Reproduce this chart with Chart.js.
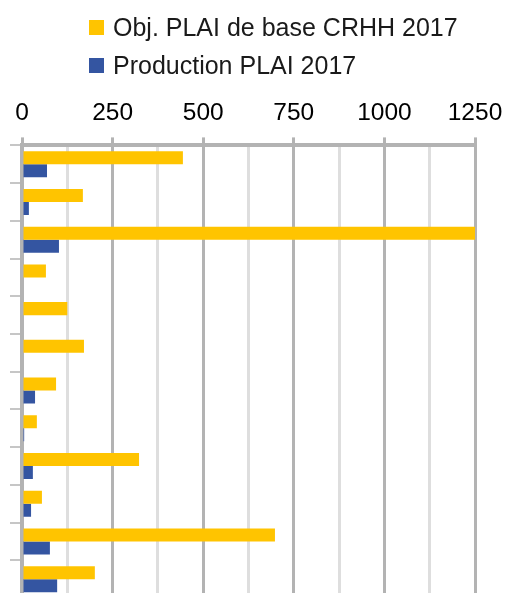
<!DOCTYPE html>
<html>
<head>
<meta charset="utf-8">
<script src="https://cdn.jsdelivr.net/npm/chart.js@4.4.1/dist/chart.umd.min.js"></script>
<style>
  body { margin: 0; width: 506px; height: 593px; overflow: hidden; background: #fff; }
  #wrap { position: relative; width: 506px; height: 598px; }
  #legend { position: absolute; left: 89px; top: 8px; font-family: "Liberation Sans", Arial, sans-serif; font-size: 25px; color: #1a1a1a; }
  #legend div { display: flex; align-items: center; height: 38px; line-height: 38px; white-space: nowrap; }
  #legend span.box { display: inline-block; width: 15px; height: 15px; margin-right: 9px; }
</style>
</head>
<body>
<div id="wrap">
  <canvas id="chart" width="506" height="598"></canvas>
  <div id="legend"></div>
</div>
<script>
// one bar pair per territory (names are not shown on the chart)
const categories = ['T1', 'T2', 'T3', 'T4', 'T5', 'T6', 'T7', 'T8', 'T9', 'T10', 'T11', 'T12'];
const objectifs = [444, 168, 1250, 66, 125, 171, 94, 41, 323, 55, 698, 201];
const production = [69, 19, 102, 0, 0, 0, 36, 6, 30, 25, 77, 97];
const xTicks = [0, 250, 500, 750, 1000, 1250];

const font = "'Liberation Sans', Arial, sans-serif";
const isMajor = v => xTicks.includes(v);

const chart = new Chart(document.getElementById('chart'), {
    type: 'bar',
    data: {
        labels: categories,
        datasets: [{
            label: 'Obj. PLAI de base CRHH 2017',
            data: objectifs,
            backgroundColor: '#FFC400'
        }, {
            label: 'Production PLAI 2017',
            data: production,
            backgroundColor: '#3455A1'
        }]
    },
    options: {
        indexAxis: 'y',
        responsive: false,
        animation: false,
        devicePixelRatio: 1,
        categoryPercentage: 0.69,
        barPercentage: 1,
        layout: { padding: { top: 90, left: 10, right: 31, bottom: 0 } },
        plugins: {
            legend: { display: false },
            tooltip: { enabled: false }
        },
        scales: {
            x: {
                position: 'top',
                min: 0,
                max: 1250,
                // the last label may hang over the right edge, like the original
                afterFit: scale => { scale.paddingRight = 31; },
                ticks: {
                    stepSize: 125,
                    autoSkip: false,
                    maxRotation: 0,
                    padding: 9,
                    color: '#000',
                    font: { family: font, size: 24.5 },
                    callback: v => isMajor(v) ? v : ''
                },
                grid: {
                    lineWidth: 3,
                    tickLength: 8,
                    color: ctx => ctx.tick && isMajor(ctx.tick.value) ? '#b3b3b3' : '#dedede',
                    tickColor: ctx => ctx.tick && isMajor(ctx.tick.value) ? '#b3b3b3' : 'rgba(0,0,0,0)'
                },
                border: { color: '#b3b3b3', width: 4 }
            },
            y: {
                ticks: { display: false },
                grid: {
                    offset: true,
                    drawOnChartArea: false,
                    tickLength: 12,
                    lineWidth: 2,
                    color: '#c6c6c6'
                },
                border: { color: '#b3b3b3', width: 4 }
            }
        }
    }
});

// legend drawn as html, lined up on the left like the original
const legend = document.getElementById('legend');
chart.data.datasets.forEach(ds => {
    const row = document.createElement('div');
    const box = document.createElement('span');
    box.className = 'box';
    box.style.background = ds.backgroundColor;
    row.appendChild(box);
    row.appendChild(document.createTextNode(ds.label));
    legend.appendChild(row);
});
</script>
</body>
</html>
